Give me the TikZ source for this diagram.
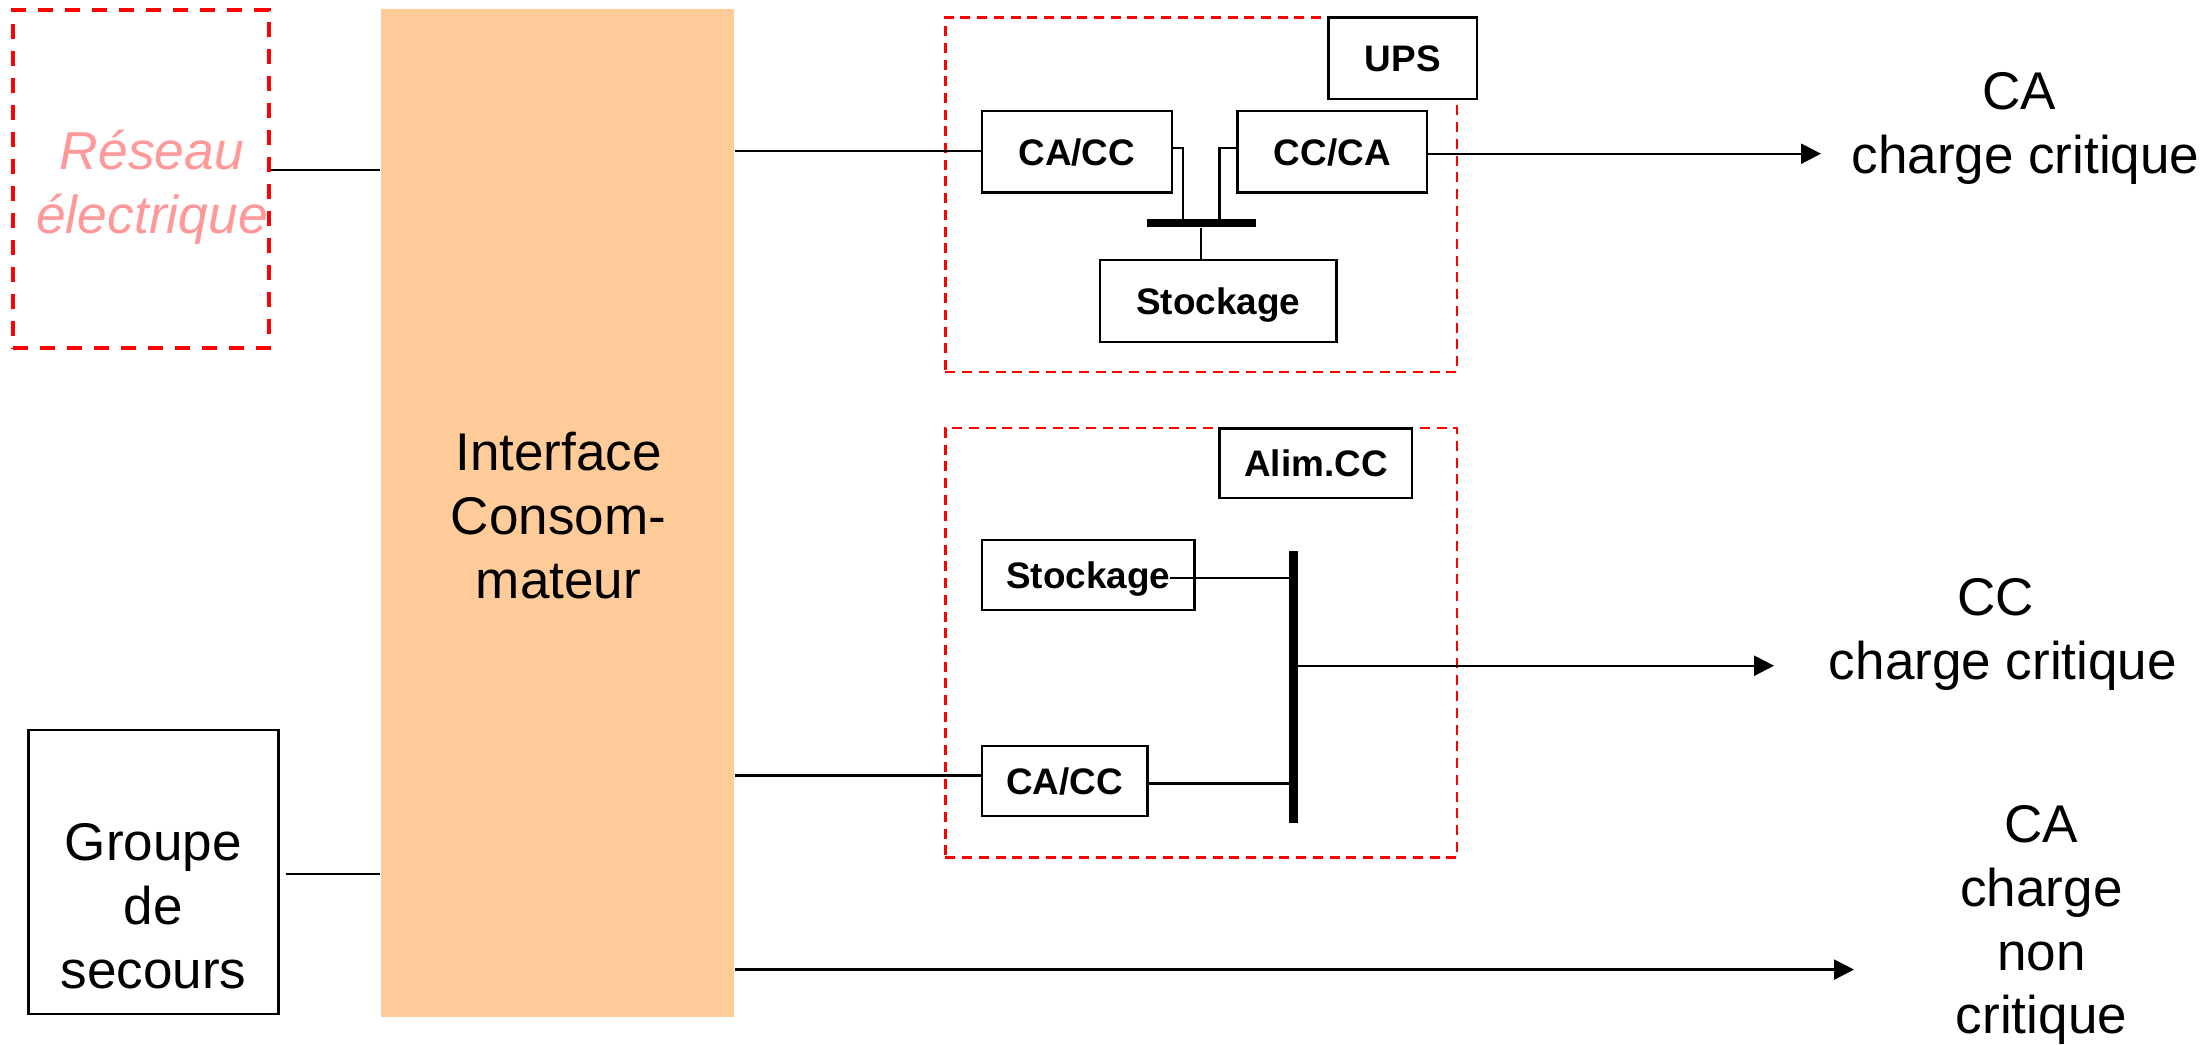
\documentclass[tikz,border=0pt]{standalone}
\usepackage{fontspec}
\setmainfont{Liberation Sans}
\usetikzlibrary{arrows.meta}
\definecolor{interfacefill}{HTML}{FFCC99}
\definecolor{reseautext}{HTML}{FF9999}
\tikzset{
  wire/.style={line width=0.68pt},
  wirearrow/.style={wire,-{Triangle[length=0.2cm,width=0.2cm]}},
  dashbox/.style={draw=red,line width=0.68pt,dash pattern=on 0.1cm off 0.067cm,inner sep=0pt},
  titlebox/.style={draw,fill=white,line width=0.68pt,inner sep=0pt,text height=0.27cm,text depth=0cm,font=\fontsize{10.5}{12}\selectfont\bfseries},
  busbar/.style={fill=black,inner sep=0pt},
  bigtext/.style={align=center,inner sep=0pt,font=\fontsize{15.1}{18.2}\selectfont}
}
\begin{document}
\begin{tikzpicture}
    \useasboundingbox (0,0) rectangle (22.06,-10.44);
    %bloc gauche
    \node[draw=red,line width=1.1pt,dash pattern=on 0.15cm off 0.12cm,minimum width=2.56cm,minimum height=3.38cm,inner sep=0pt] (reseaubox) at (1.41,-1.79) {};
    \node[bigtext,text=reseautext,font=\fontsize{15.2}{18.2}\selectfont\itshape] (reseau) at (1.52,-1.87) {Réseau\\électrique};
    \node[fill=interfacefill,minimum width=3.53cm,minimum height=10.08cm,inner sep=0pt] (iface) at (5.575,-5.13) {};
    \node[bigtext] (ifacetext) at (5.585,-5.16) {Interface\\Consom-\\mateur};
    \node[draw,line width=0.68pt,minimum width=2.50cm,minimum height=2.84cm,inner sep=0pt] (groupe) at (1.535,-8.72) {};
    \node[bigtext] (groupetext) at (1.535,-9.065) {Groupe\\de\\secours};

    %UPS
    \node[dashbox,minimum width=5.117cm,minimum height=3.543cm] (upsbox) at (12.013,-1.948) {};
    \node[titlebox,minimum width=1.485cm,minimum height=0.813cm] (ups) at (14.029,-0.583) {UPS};
    \node[titlebox,minimum width=1.90cm,minimum height=0.813cm] (cacca) at (10.768,-1.517) {CA/CC};
    \node[titlebox,minimum width=1.896cm,minimum height=0.813cm] (ccca) at (13.323,-1.517) {CC/CA};
    \node[titlebox,minimum width=2.364cm,minimum height=0.82cm] (stocka) at (12.182,-3.01) {Stockage};
    \node[busbar,minimum width=1.092cm,minimum height=0.077cm] (busa) at (12.014,-2.232) {};

    %Alim.CC
    \node[dashbox,minimum width=5.117cm,minimum height=4.297cm] (alimbox) at (12.013,-6.428) {};
    \node[titlebox,minimum width=1.925cm,minimum height=0.694cm] (alim) at (13.159,-4.63) {Alim.CC};
    \node[titlebox,minimum width=2.128cm,minimum height=0.70cm] (stockb) at (10.882,-5.75) {Stockage};
    \node[titlebox,minimum width=1.657cm,minimum height=0.70cm] (caccb) at (10.647,-7.807) {CA/CC};
    \node[busbar,minimum width=0.082cm,minimum height=2.72cm] (busb) at (12.934,-6.873) {};

    %points
    \coordinate (stubl) at (11.832,-1.477);
    \coordinate (stubr) at (12.196,-1.477);
    \coordinate (stubs) at (12.01,-3);
    \coordinate (stockin) at (11.70,-5.777);
    \coordinate (ccin) at (0,-7.753);
    \coordinate (ccout) at (0,-7.833);
    \coordinate (busout) at (0,-6.657);
    \coordinate (upsin) at (0,-1.51);
    \coordinate (upsout) at (0,-1.537);
    \coordinate (reseauout) at (0,-1.697);
    \coordinate (groupeout) at (2.856,-8.737);
    \coordinate (loadout) at (0,-9.696);
    \coordinate (upsend) at (18.21,0);
    \coordinate (alimend) at (17.74,0);
    \coordinate (noncritend) at (18.54,0);

    %liaisons
    \draw[wire] (reseaubox.east |- reseauout)--(iface.west |- reseauout);
    \draw[wire] (groupeout)--(iface.west |- groupeout);
    \draw[wire] (iface.east |- upsin)--(cacca.west |- upsin);
    \draw[wire] (cacca.east |- stubl)--(stubl)--(stubl |- busa.north);
    \draw[wire] (ccca.west |- stubr)--(stubr)--(stubr |- busa.north);
    \draw[wire] (stubs |- stocka.north)--(stubs |- busa.south);
    \draw[wirearrow] (ccca.east |- upsout)--(upsend |- upsout);
    \draw[wire] (stockin)--(busb.west |- stockin);
    \draw[wire] (iface.east |- ccin)--(caccb.west |- ccin);
    \draw[wire] (caccb.east |- ccout)--(busb.west |- ccout);
    \draw[wirearrow] (busb.east |- busout)--(alimend |- busout);
    \draw[wirearrow] (iface.east |- loadout)--(noncritend |- loadout);

    %charges
    \node[bigtext] (loada) at (20.255,-1.285) {CA\kern0.12cm\\charge critique};
    \node[bigtext] (loadb) at (20.03,-6.34) {CC\kern0.15cm\\charge critique};
    \node[bigtext] (loadc) at (20.415,-9.25) {CA\\charge\\non\\critique};
\end{tikzpicture}
\end{document}
